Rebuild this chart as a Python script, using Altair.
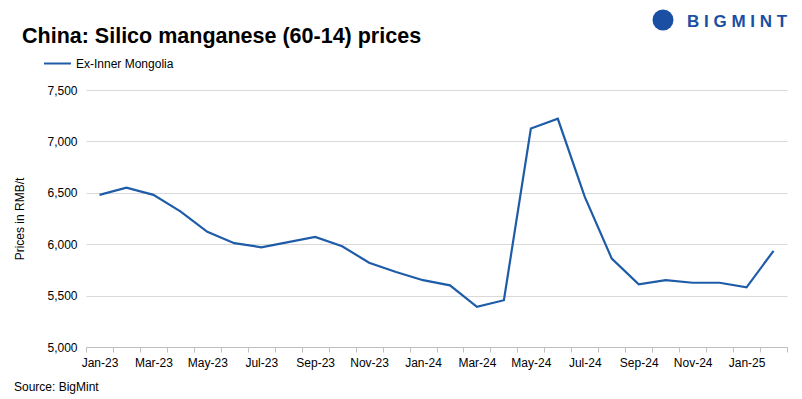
import altair as alt
import pandas as pd

months = ["Jan-23", "Feb-23", "Mar-23", "Apr-23", "May-23", "Jun-23", "Jul-23", "Aug-23",
          "Sep-23", "Oct-23", "Nov-23", "Dec-23", "Jan-24", "Feb-24", "Mar-24", "Apr-24",
          "May-24", "Jun-24", "Jul-24", "Aug-24", "Sep-24", "Oct-24", "Nov-24", "Dec-24",
          "Jan-25", "Feb-25"]
prices = [6480, 6550, 6480, 6320, 6120, 6010, 5970, 6020, 6070, 5980, 5820, 5730,
          5650, 5600, 5390, 5455, 7125, 7220, 6460, 5860, 5610, 5650, 5625, 5625,
          5580, 5935]
series_name = "Ex-Inner Mongolia"
y_ticks = [5000, 5500, 6000, 6500, 7000, 7500]
title_text = "China: Silico manganese (60-14) prices"
source_text = "Source: BigMint"
brand_text = "B I G M I N T"
y_title = "Prices in RMB/t"

W, H = 701, 257
FONT = "Liberation Sans"
BLUE = "#1f5ca8"
n = len(months)
step = W / n

df = pd.DataFrame({"idx": list(range(n)), "month": months, "price": prices,
                   "series": [series_name] * n})

month_js = "[" + ",".join("'" + m + "'" for m in months) + "]"
label_expr = (f"((datum.value + 0.5) % 2 == 0 && (datum.value + 0.5) < {n}) ? "
              f"{month_js}[datum.value + 0.5] : ''")

line = alt.Chart(df).mark_line(strokeWidth=2.2).encode(
    x=alt.X("idx:Q",
            scale=alt.Scale(domain=[-0.5, n - 0.5], nice=False, zero=False),
            axis=alt.Axis(values=[i - 0.5 for i in range(n + 1)], labelExpr=label_expr,
                          labelOffset=step / 2, labelOverlap=False, labelFlush=False,
                          labelBound=False, grid=False, title=None, tickSize=5,
                          tickColor="#bfbfbf", domainColor="#bfbfbf", labelPadding=5,
                          labelFontSize=12, labelFont=FONT, labelColor="#000000")),
    y=alt.Y("price:Q",
            scale=alt.Scale(domain=[5000, 7500], nice=False, zero=False),
            axis=alt.Axis(values=y_ticks, format=",.0f", grid=True, gridColor="#d9d9d9",
                          domain=False, ticks=False, labelPadding=9, labelFontSize=12,
                          labelFont=FONT, labelColor="#000000", title=y_title,
                          titleFont=FONT, titleFontSize=12, titleFontWeight="normal",
                          titleColor="#000000", titlePadding=20)),
    color=alt.Color("series:N", scale=alt.Scale(domain=[series_name], range=[BLUE]),
                    legend=alt.Legend(orient="none", legendX=-43, legendY=-41,
                                      title=None, symbolType="stroke", symbolSize=729,
                                      symbolStrokeWidth=2, labelFont=FONT,
                                      labelFontSize=12, labelColor="#000000",
                                      labelOffset=4)),
)

title = alt.Chart(pd.DataFrame({"t": [title_text]})).mark_text(
    align="left", baseline="alphabetic", font=FONT, fontSize=21.5, fontWeight="bold",
    color="#000000"
).encode(x=alt.value(-64), y=alt.value(-47), text="t:N")

source = alt.Chart(pd.DataFrame({"t": [source_text]})).mark_text(
    align="left", baseline="alphabetic", font=FONT, fontSize=12, color="#000000"
).encode(x=alt.value(-72), y=alt.value(301), text="t:N")

brand = alt.Chart(pd.DataFrame({"t": [brand_text]})).mark_text(
    align="left", baseline="alphabetic", font=FONT, fontSize=17, fontWeight="bold",
    color="#1a4fa3"
).encode(x=alt.value(601), y=alt.value(-63), text="t:N")

icon = alt.Chart(pd.DataFrame({"t": ["i"]})).mark_point(
    filled=True, shape="circle", size=440, color="#1a4fa3", opacity=1
).encode(x=alt.value(577), y=alt.value(-70))

chart = alt.layer(line, title, source, brand, icon).properties(
    width=W, height=H,
    autosize=alt.AutoSizeParams(type="none"),
    padding={"left": 78, "top": 82, "right": 7, "bottom": 50},
).configure_view(stroke=None)

chart.save("out.html", embed_options={"renderer": "svg", "actions": False})
